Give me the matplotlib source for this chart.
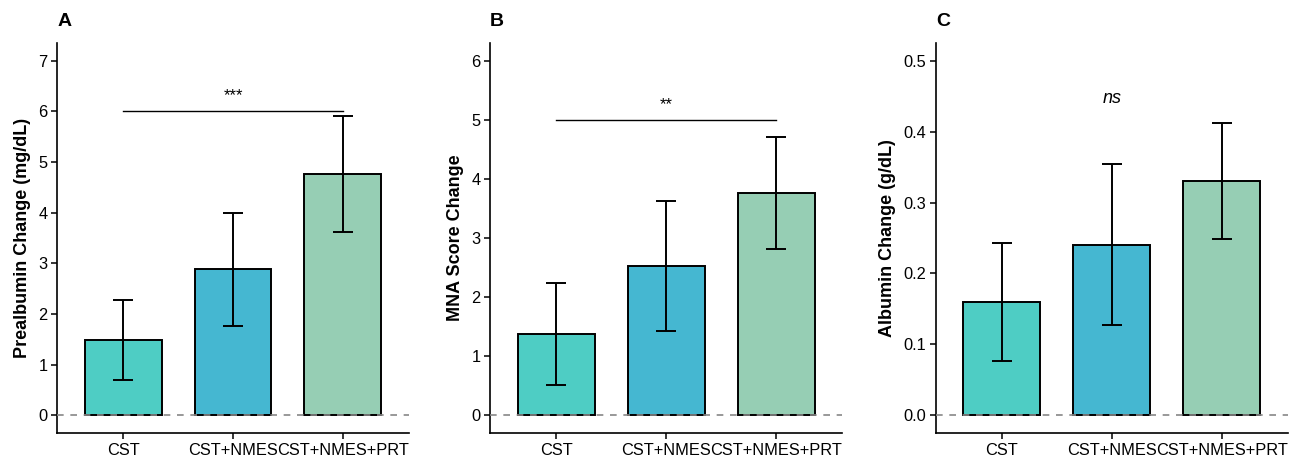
import matplotlib
matplotlib.use('Agg')
import matplotlib.pyplot as plt
import numpy as np

plt.rcParams['font.family'] = ['Liberation Sans', 'DejaVu Sans']

groups = ['CST', 'CST+NMES', 'CST+NMES+PRT']
colors = ['#4ECDC4', '#45B7D1', '#96CEB4']

# mean change and error bar bounds per group
prealb_mean = [1.49, 2.88, 4.77]
prealb_low = [0.70, 1.76, 3.62]
prealb_high = [2.28, 4.00, 5.91]

mna_mean = [1.38, 2.52, 3.76]
mna_low = [0.52, 1.42, 2.81]
mna_high = [2.24, 3.62, 4.71]

alb_mean = [0.160, 0.240, 0.330]
alb_low = [0.077, 0.127, 0.249]
alb_high = [0.243, 0.354, 0.412]

panels = [
    ('A', 'Prealbumin Change (mg/dL)', prealb_mean, prealb_low, prealb_high,
     (-0.35, 7.35), [0, 1, 2, 3, 4, 5, 6, 7], '{:g}', 6.0, '***'),
    ('B', 'MNA Score Change', mna_mean, mna_low, mna_high,
     (-0.3, 6.3), [0, 1, 2, 3, 4, 5, 6], '{:g}', 5.0, '**'),
    ('C', 'Albumin Change (g/dL)', alb_mean, alb_low, alb_high,
     (-0.025, 0.525), [0.0, 0.1, 0.2, 0.3, 0.4, 0.5], '{:.1f}', None, 'ns'),
]

fig = plt.figure(figsize=(12.93, 4.62), dpi=100)
lefts = [0.0441, 0.379, 0.7239]

for left, (tag, ylabel, mean, low, high, ylim, yticks, fmt, bracket, sig) in zip(lefts, panels):
    ax = fig.add_axes([left, 0.0628, 0.2722, 0.844])
    x = np.arange(1, len(groups) + 1)
    ax.bar(x, mean, width=0.7, color=colors, edgecolor='black', linewidth=1.4, zorder=2)
    err = [np.array(mean) - np.array(low), np.array(high) - np.array(mean)]
    ax.errorbar(x, mean, yerr=err, fmt='none', ecolor='black', elinewidth=1.4,
                capsize=7.2, capthick=1.4, zorder=3)
    ax.axhline(0, color='#888888', linestyle=(0, (4, 4)), linewidth=1.2, zorder=4)

    ax.set_xlim(0.4, 3.6)
    ax.set_ylim(*ylim)
    ax.set_xticks(x)
    ax.set_xticklabels(groups, fontsize=11.8)
    ax.set_yticks(yticks)
    ax.set_yticklabels([fmt.format(t) for t in yticks], fontsize=11.8)
    ax.set_ylabel(ylabel, fontsize=13, fontweight='bold', labelpad=5)
    ax.tick_params(direction='out', length=4, width=1.1, colors='black', pad=3)
    for side in ['top', 'right']:
        ax.spines[side].set_visible(False)
    for side in ['left', 'bottom']:
        ax.spines[side].set_linewidth(1.2)

    if bracket is not None:
        ax.plot([1, 3], [bracket, bracket], color='black', linewidth=1.0)
        ax.text(2, bracket + (ylim[1] - ylim[0]) * 0.02, sig, ha='center', va='bottom', fontsize=12)
    else:
        ax.text(2, 0.447, sig, ha='center', va='center', fontsize=13, style='italic')

    ax.text(0.0, 1.056, tag, transform=ax.transAxes, fontsize=14, fontweight='bold',
            ha='left', va='center')

fig.savefig('out.png', dpi=100)
